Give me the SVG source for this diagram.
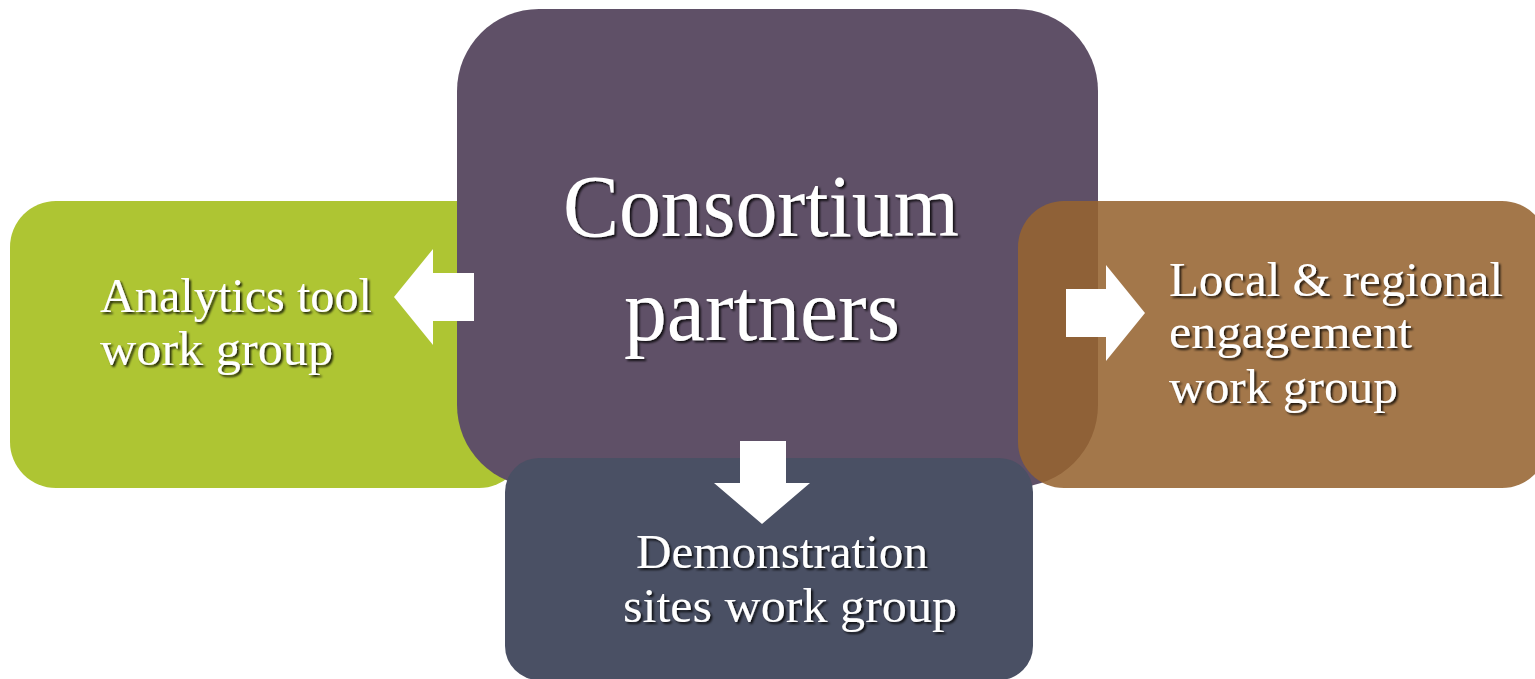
<svg xmlns="http://www.w3.org/2000/svg" width="1535" height="679" viewBox="0 0 1535 679">
<defs>
<filter id="shadow" x="-5%" y="-20%" width="110%" height="140%">
<feDropShadow dx="2" dy="2" stdDeviation="0.8" flood-color="#000" flood-opacity="0.8"/>
</filter>
</defs>
<style>
.lbl{font-family:"Liberation Serif","DejaVu Serif",serif;fill:#fff;filter:url(#shadow)}
.sm{font-size:48px}
.lg{font-size:88px}
.arrow{fill:#fff}
</style>
<rect width="1535" height="679" fill="#fff"/>
<g id="analytics">
<rect x="10" y="201" width="515" height="287" rx="46" fill="#aec533"/>
</g>
<g id="consortium">
<rect x="457" y="9" width="641" height="478" rx="82" fill="#5f5067"/>
</g>
<g id="local">
<rect x="1018" y="201" width="530" height="287" rx="46" fill="#966430" fill-opacity="0.875"/>
</g>
<g id="demonstration">
<rect x="505" y="458" width="528" height="222" rx="34" fill="#4a5064"/>
</g>
<g id="connectors">
<polygon class="arrow" points="474,273 433,273 433,249 394,297 433,345 433,321 474,321"/>
<polygon class="arrow" points="1066,289 1106,289 1106,265 1145,313 1106,361 1106,337 1066,337"/>
<polygon class="arrow" points="740,441 786,441 786,483 810,483 762,524 714,483 740,483"/>
</g>
<g id="labels">
<text class="lbl sm" x="100" y="312" textLength="272" lengthAdjust="spacingAndGlyphs">Analytics tool</text>
<text class="lbl sm" x="100" y="365" textLength="233" lengthAdjust="spacingAndGlyphs">work group</text>
<text class="lbl lg" x="563" y="236" textLength="396" lengthAdjust="spacingAndGlyphs">Consortium</text>
<text class="lbl lg" x="624" y="340" textLength="276" lengthAdjust="spacingAndGlyphs">partners</text>
<text class="lbl sm" x="1169" y="296" textLength="334" lengthAdjust="spacingAndGlyphs">Local &amp; regional</text>
<text class="lbl sm" x="1169" y="348" textLength="243" lengthAdjust="spacingAndGlyphs">engagement</text>
<text class="lbl sm" x="1169" y="403" textLength="229" lengthAdjust="spacingAndGlyphs">work group</text>
<text class="lbl sm" x="636" y="568" textLength="292" lengthAdjust="spacingAndGlyphs">Demonstration</text>
<text class="lbl sm" x="623" y="622" textLength="334" lengthAdjust="spacingAndGlyphs">sites work group</text>
</g>
</svg>
